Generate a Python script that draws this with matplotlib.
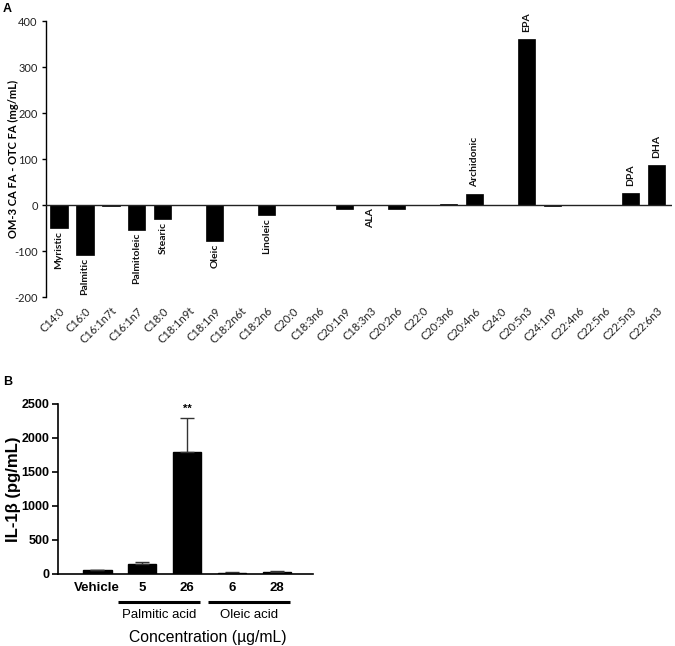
import matplotlib
matplotlib.use("Agg")
import matplotlib.pyplot as plt
import matplotlib.transforms as mtrans

plt.rcParams['axes.unicode_minus'] = False

# ---------------- Data ----------------
fa_codes = ["C14:0", "C16:0", "C16:1n7t", "C16:1n7", "C18:0", "C18:1n9t", "C18:1n9",
            "C18:2n6t", "C18:2n6", "C20:0", "C18:3n6", "C20:1n9", "C18:3n3", "C20:2n6",
            "C22:0", "C20:3n6", "C20:4n6", "C24:0", "C20:5n3", "C24:1n9", "C22:4n6",
            "C22:5n6", "C22:5n3", "C22:6n3"]
fa_diff = [-50, -109, -3, -55, -31, -1, -79, 0, -22, -1, 0, -9, -1, -8,
           0, 2, 25, 0, 361, -2, 1, 1, 27, 87]
fa_names = {0: "Myristic", 1: "Palmitic", 3: "Palmitoleic", 4: "Stearic", 6: "Oleic",
            8: "Linoleic", 12: "ALA", 16: "Archidonic", 18: "EPA", 22: "DPA", 23: "DHA"}
a_yticks = [-200, -100, 0, 100, 200, 300, 400]

b_labels = ["Vehicle", "5", "26", "6", "28"]
b_values = [54, 140, 1800, 20, 35]
b_errors = [8, 30, 500, 10, 10]
b_groups = [("Palmitic acid", 1, 2), ("Oleic acid", 3, 4)]
b_yticks = [0, 500, 1000, 1500, 2000, 2500]

W, H = 675, 646
fig = plt.figure(figsize=(W / 100, H / 100), dpi=100)

def rect(l, t, r, b):
    return [l / W, 1 - b / H, (r - l) / W, (b - t) / H]

# ---------------- Panel A ----------------
fontA = ['Lato', 'DejaVu Sans']
axA = fig.add_axes(rect(46, 21, 672, 297))
xs = list(range(len(fa_codes)))
axA.bar(xs, fa_diff, width=0.66, color='black', edgecolor='black', linewidth=0.5, zorder=2)
axA.axhline(0, color='#222222', linewidth=1.0, zorder=3)
axA.set_xlim(-0.5, 23.6)
axA.set_ylim(-200, 400)
for s in ['top', 'right', 'bottom']:
    axA.spines[s].set_visible(False)
axA.spines['left'].set_linewidth(1.0)
axA.set_yticks(a_yticks)
axA.set_yticklabels([str(v) for v in a_yticks], family=fontA, fontsize=8, color='#222222')
axA.tick_params(axis='y', length=3, width=1, pad=3)
axA.set_xticks(xs)
axA.set_xticklabels(fa_codes, rotation=45, ha='right', rotation_mode='anchor',
                    family=fontA, fontsize=8, color='#222222')
axA.tick_params(axis='x', length=0, pad=6)
axA.set_ylabel("OM-3 CA FA - OTC FA (mg/mL)", family=fontA, fontsize=8,
               fontweight='bold')
axA.yaxis.set_label_coords((19 - 46) / 626, 0.5)
for i, name in fa_names.items():
    v = fa_diff[i]
    if v < 0:
        axA.annotate(name, (i, v), xytext=(0, -2), textcoords='offset points',
                     rotation=90, ha='center', va='top', family=fontA, fontsize=7.5,
                     fontweight='bold', color='#111111')
    else:
        axA.annotate(name, (i, v), xytext=(0, 5), textcoords='offset points',
                     rotation=90, ha='center', va='bottom', family=fontA, fontsize=7.5,
                     fontweight='bold', color='#111111')
fig.text(3 / W, 1 - 12 / H, "A", family=['Liberation Sans', 'DejaVu Sans'],
         fontsize=9, fontweight='bold')

# ---------------- Panel B ----------------
fontB = ['Liberation Sans', 'DejaVu Sans']
axB = fig.add_axes(rect(58, 404, 313, 574))
xb = list(range(len(b_labels)))
axB.bar(xb, b_values, width=0.64, color='black', edgecolor='black', zorder=2,
        yerr=[[0] * len(b_errors), b_errors],
        error_kw=dict(ecolor='#333333', elinewidth=1, capsize=5, capthick=1))
axB.set_xlim(-0.87, 4.8)
axB.set_ylim(0, 2500)
for s in ['top', 'right']:
    axB.spines[s].set_visible(False)
axB.spines['left'].set_linewidth(1.2)
axB.spines['bottom'].set_linewidth(1.2)
axB.set_yticks(b_yticks)
axB.set_yticklabels([str(v) for v in b_yticks], family=fontB, fontsize=9,
                    fontweight='bold')
axB.tick_params(axis='y', length=4, width=1.2, pad=2)
axB.set_xticks(xb)
axB.set_xticklabels(b_labels, family=fontB, fontsize=9.5, fontweight='bold')
axB.tick_params(axis='x', length=0, pad=6)
axB.set_ylabel("IL-1β (pg/mL)", family=fontB, fontsize=12, fontweight='bold')
axB.yaxis.set_label_coords((21 - 58) / 255, 0.5)
axB.text(2, b_values[2] + b_errors[2] + 60, "**", ha='center', va='bottom',
         family=fontB, fontsize=8, fontweight='bold')
trB = mtrans.blended_transform_factory(axB.transData, axB.transAxes)
for name, g0, g1 in b_groups:
    axB.plot([g0 - 0.53, g1 + 0.29], [-0.165, -0.165], transform=trB, color='black',
             linewidth=2.2, clip_on=False, solid_capstyle='butt')
    axB.text((g0 + g1) / 2 - 0.12, -0.205, name, transform=trB, ha='center', va='top',
             family=fontB, fontsize=9.5)
axB.text(2.47, -0.33, "Concentration (µg/mL)", transform=trB, ha='center', va='top',
         family=fontB, fontsize=11.3)
fig.text(3 / W, 1 - 385 / H, "B", family=fontB, fontsize=9, fontweight='bold')

fig.savefig("out.png", dpi=100)
